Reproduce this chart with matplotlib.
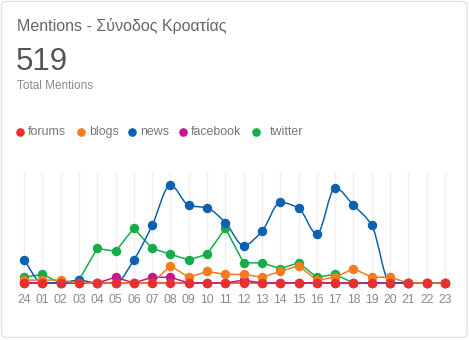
import numpy as np
import matplotlib.pyplot as plt
from matplotlib.patches import FancyBboxPatch, PathPatch
from matplotlib.path import Path

plt.rcParams['font.family'] = ['Liberation Sans', 'DejaVu Sans']

# data (mentions per hour)
hours = ['24', '01', '02', '03', '04', '05', '06', '07', '08', '09', '10', '11',
         '12', '13', '14', '15', '16', '17', '18', '19', '20', '21', '22', '23']
forums = [0] * 24
blogs = [1, 1, 1, 0, 0, 0, 0, 0, 6, 2, 4, 3, 3, 2, 4, 6, 1, 2, 5, 2, 2, 0, 0, 0]
news = [8, 0, 0, 1, 0, 0, 8, 20, 34, 27, 26, 21, 13, 18, 28, 26, 17, 33, 27, 20, 0, 0, 0, 0]
facebook = [0, 0, 0, 0, 0, 2, 0, 2, 2, 0, 0, 0, 1, 0, 0, 0, 0, 0, 0, 0, 0, 0, 0, 0]
twitter = [2, 3, 0, 1, 12, 11, 19, 12, 10, 8, 10, 19, 7, 7, 5, 7, 2, 3, 0, 0, 0, 0, 0, 0]
total = 519

series_names = ['forums', 'blogs', 'news', 'facebook', 'twitter']
series_colors = ['#e8312f', '#f47b20', '#0c62b0', '#c4168c', '#14ad4a']

W, H = 469, 340
fig = plt.figure(figsize=(W / 100, H / 100), dpi=100)
fig.patch.set_facecolor('white')


def fx(px):
    return px / W


def fy(py):
    return 1 - py / H


# card border (kept behind the axes)
card = FancyBboxPatch((fx(1.5), fy(337.5)), fx(465.5), (336) / H,
                      boxstyle='round,pad=0,rounding_size=0.012',
                      transform=fig.transFigure, facecolor='white',
                      edgecolor='#e2e2e2', linewidth=1, zorder=-5)
fig.patches.append(card)

fig.text(fx(17), fy(26), 'Mentions - Σύνοδος Κροατίας', fontsize=11.5,
         color='#666666', va='center', ha='left')
fig.text(fx(15.5), fy(62), str(total), fontsize=22.5, color='#555555',
         va='center', ha='left')
fig.text(fx(17), fy(86), 'Total Mentions', fontsize=8.5, color='#8a8a8a',
         va='center', ha='left')

# legend
leg_dot_x = [20, 81, 132, 183, 256]
leg_text_x = [28, 89, 140, 191, 270]
for name, col, dx, tx in zip(series_names, series_colors, leg_dot_x, leg_text_x):
    fig.lines.append(plt.Line2D([fx(dx)], [fy(132)], marker='o', markersize=5.2,
                                color=col, linestyle='none',
                                transform=fig.transFigure))
    fig.text(fx(tx), fy(132), name, fontsize=8.9, color='#777777',
             va='center', ha='left')

# plot area
step = (445 - 24) / 23
unit = 2.88
left_px, right_px, top_px, bot_px = 14, 455, 172, 287
ax = fig.add_axes([fx(left_px), fy(bot_px), (right_px - left_px) / W,
                   (bot_px - top_px) / H])
ax.set_xlim(-(24 - left_px) / step, 23 + (right_px - 445) / step)
ax.set_ylim(-(bot_px - 283) / unit, (283 - top_px) / unit)
ax.set_facecolor('none')
for s in ax.spines.values():
    s.set_visible(False)
x = np.arange(len(hours))
ax.set_xticks(x)
ax.set_xticklabels(hours)
ax.set_yticks([])
ax.tick_params(axis='x', length=0, pad=5, labelsize=8.7, labelcolor='#8a8a8a')
ax.grid(axis='x', color='#f0f0f0', linewidth=1)
ax.set_axisbelow(True)


def smooth_path(xs, ys):
    # monotone cubic (Fritsch-Carlson) as bezier segments
    xs = np.asarray(xs, float)
    ys = np.asarray(ys, float)
    h = np.diff(xs)
    d = np.diff(ys) / h
    m = np.zeros_like(ys)
    m[0], m[-1] = d[0], d[-1]
    for i in range(1, len(ys) - 1):
        if d[i - 1] * d[i] <= 0:
            m[i] = 0
        else:
            m[i] = 2 / (1 / d[i - 1] + 1 / d[i])
    verts = [(xs[0], ys[0])]
    codes = [Path.MOVETO]
    for i in range(len(xs) - 1):
        verts += [(xs[i] + h[i] / 3, ys[i] + m[i] * h[i] / 3),
                  (xs[i + 1] - h[i] / 3, ys[i + 1] - m[i + 1] * h[i] / 3),
                  (xs[i + 1], ys[i + 1])]
        codes += [Path.CURVE4] * 3
    return Path(verts, codes)


data = {'forums': forums, 'blogs': blogs, 'news': news,
        'facebook': facebook, 'twitter': twitter}
# line and marker stacking
line_z = {'forums': 2, 'twitter': 2.2, 'facebook': 3, 'news': 4, 'blogs': 5}
dot_z = {'twitter': 6, 'facebook': 6.5, 'news': 7, 'blogs': 7.5, 'forums': 8}
for name, col in zip(series_names, series_colors):
    vals = data[name]
    if name == 'news':
        ax.add_patch(PathPatch(smooth_path(x, vals), facecolor='none',
                               edgecolor=col, linewidth=1.1, zorder=line_z[name]))
    else:
        ax.plot(x, vals, color=col, linewidth=1.1, zorder=line_z[name])
    ax.plot(x, vals, 'o', color=col, markersize=5.8, zorder=dot_z[name],
            clip_on=False)

fig.savefig('out.png', dpi=100)
